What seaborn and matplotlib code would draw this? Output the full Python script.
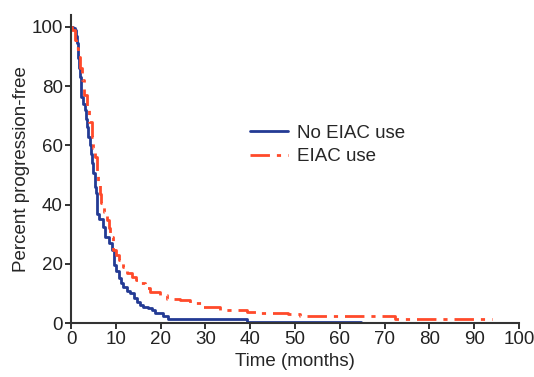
import matplotlib
matplotlib.use("Agg")
import matplotlib.pyplot as plt
import pandas as pd
import seaborn as sns

# Kaplan-Meier step points
time_no_eiac = [0, 0.5, 0.9, 1.1, 1.3, 1.5, 1.6, 1.8, 2.0, 2.2, 2.6, 3.1, 3.4, 3.6, 3.9,
                4.2, 4.4, 4.6, 5.0, 5.4, 5.6, 5.7, 6.3, 7.2, 7.6, 8.4, 9.1, 9.6, 10.1,
                10.6, 11.2, 11.7, 12.5, 13.2, 14.0, 14.7, 15.4, 16.1, 17.2, 18.0,
                18.8, 20.6, 21.7, 39.2, 64.7]
pct_no_eiac = [100, 99.5, 99, 97, 94.5, 92, 89.4, 86, 83.2, 76.5, 74, 72, 69, 66.3, 63,
               60, 57, 54, 50.6, 46, 43.8, 37, 35, 32.5, 29.2, 27, 24.7, 19.6, 17.5,
               15.1, 13.5, 12.3, 11, 10, 8.5, 7.2, 6.2, 5.5, 5.0, 4.4,
               3.3, 2.5, 1.4, 0.5, 0.5]

time_eiac = [0, 0.3, 0.9, 1.2, 1.6, 2.0, 2.4, 3.0, 3.5, 4.0, 4.6, 5.0, 5.3, 5.7, 6.1,
             6.5, 6.8, 7.4, 8.0, 8.4, 8.7, 9.4, 10.0, 10.6, 11.5, 12.4, 13.5, 14.4,
             15.4, 16.5, 17.6, 19.9, 21.4, 24.3, 26.6, 29.5, 33.3, 39.2, 42.2,
             48.5, 51.1, 72.4, 93.9]
pct_eiac = [100, 99, 95.6, 93, 90, 86, 82, 77, 73, 68, 63, 59, 56, 51, 47.2,
            43.5, 40.4, 37.5, 34.8, 32, 29.2, 24.7, 23, 21.3, 19, 16.8, 15.6, 14.5,
            13.4, 12, 10.6, 9.5, 8.3, 7.8, 6.7, 5.5, 4.4, 3.8, 3.3,
            3.0, 2.5, 1.4, 1.4]

labels = ["No EIAC use", "EIAC use"]

sns.set_style("ticks")
plt.rcParams["font.family"] = ["Liberation Sans", "DejaVu Sans"]

df_no = pd.DataFrame({"time": time_no_eiac, "pct": pct_no_eiac})
df_yes = pd.DataFrame({"time": time_eiac, "pct": pct_eiac})

fig = plt.figure(figsize=(5.34, 3.77), dpi=100)
ax = fig.add_axes([0.133, 0.143, 0.839, 0.817])

sns.lineplot(data=df_no, x="time", y="pct", ax=ax, drawstyle="steps-post",
             color="#233a94", linewidth=2, label=labels[0], estimator=None)
sns.lineplot(data=df_yes, x="time", y="pct", ax=ax, drawstyle="steps-post",
             color="#ff4a2a", linewidth=2, linestyle=(0, (7, 2.5, 1.5, 2.5)),
             label=labels[1], estimator=None)

ax.set_xlim(0, 100)
ax.set_ylim(0, 104)
ax.set_xticks(range(0, 101, 10))
ax.set_yticks(range(0, 101, 20))
ax.tick_params(labelsize=13.5, length=4, width=1.3, colors="#222222", pad=2)
for side in ["left", "bottom"]:
    ax.spines[side].set_linewidth(1.5)
    ax.spines[side].set_color("#333333")
sns.despine(ax=ax)

ax.set_xlabel("Time (months)", fontsize=13.5, labelpad=3)
ax.set_ylabel("Percent progression-free", fontsize=13.5, labelpad=1)

ax.legend(loc="upper left", bbox_to_anchor=(0.40, 0.645), frameon=False,
          fontsize=13.5, handlelength=2.0, handletextpad=0.5, labelspacing=0.35,
          borderaxespad=0, borderpad=0)

fig.savefig("out.png", dpi=100)
